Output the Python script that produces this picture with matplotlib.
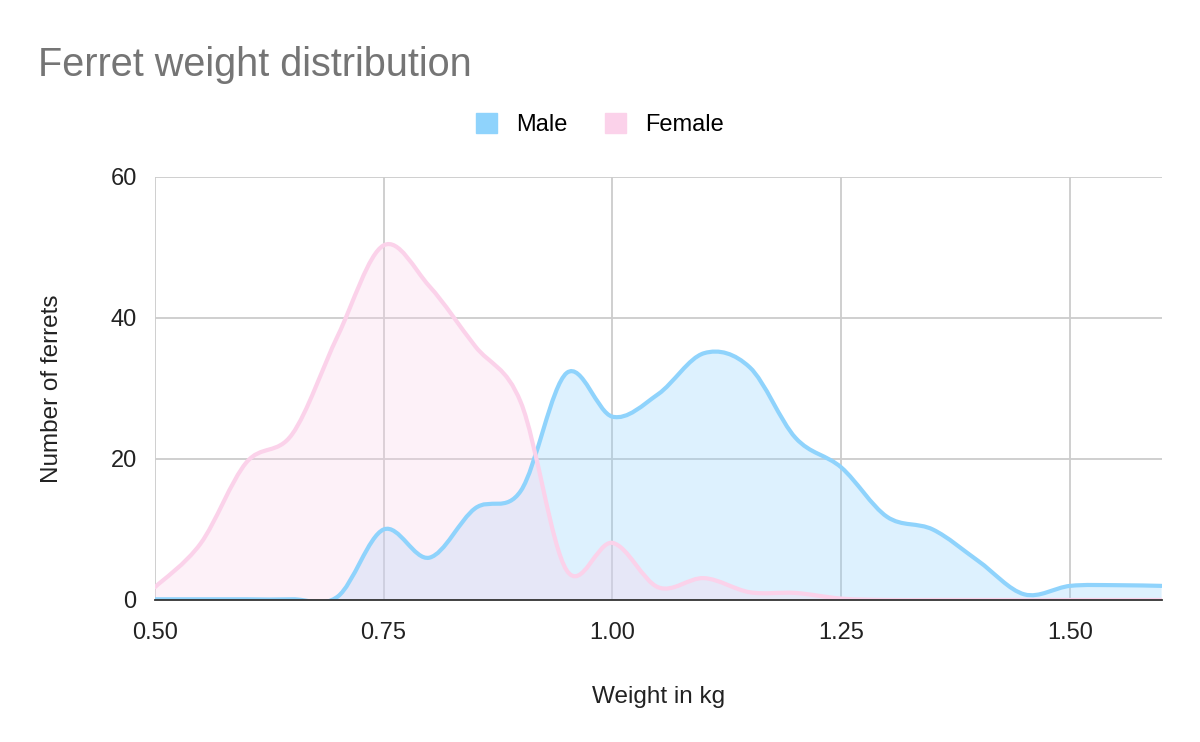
import numpy as np
from matplotlib import pyplot as plt
from matplotlib.path import Path
from matplotlib.patches import PathPatch

# Data (weight bins in kg, counts)
weights = [0.50, 0.55, 0.60, 0.65, 0.70, 0.75, 0.80, 0.85, 0.90, 0.95, 1.00, 1.05,
           1.10, 1.15, 1.20, 1.25, 1.30, 1.35, 1.40, 1.45, 1.50, 1.55, 1.60]
male = [0.1, 0.1, 0.1, 0.1, 0.5, 10.0, 6.0, 13.0, 15.5, 32.2, 26.0, 29.2,
        35.0, 33.0, 23.0, 18.8, 11.8, 10.0, 5.5, 0.8, 2.0, 2.1, 2.0]
female = [1.8, 8.0, 19.5, 23.5, 37.5, 50.3, 44.5, 36.0, 28.0, 4.2, 8.1, 1.8,
          3.1, 1.1, 1.0, 0.2, 0.0, 0.0, 0.0, 0.0, 0.0, 0.0, 0.0]

x_ticks = [0.50, 0.75, 1.00, 1.25, 1.50]
y_ticks = [0, 20, 40, 60]

MALE_COLOR = "#8fd3fc"
FEMALE_COLOR = "#fbd2ea"

plt.rcParams['font.family'] = ['Liberation Sans', 'DejaVu Sans']


def smooth_path(xs, ys, closed_to_zero=False):
    # Catmull-Rom spline through the points, as cubic Bezier segments
    pts = np.column_stack([xs, ys]).astype(float)
    n = len(pts)
    verts = [pts[0]]
    codes = [Path.MOVETO]
    for i in range(n - 1):
        p0 = pts[max(i - 1, 0)]
        p1 = pts[i]
        p2 = pts[i + 1]
        p3 = pts[min(i + 2, n - 1)]
        c1 = p1 + (p2 - p0) / 6.0
        c2 = p2 - (p3 - p1) / 6.0
        verts += [c1, c2, p2]
        codes += [Path.CURVE4] * 3
    if closed_to_zero:
        verts += [(xs[-1], 0), (xs[0], 0), pts[0]]
        codes += [Path.LINETO, Path.LINETO, Path.CLOSEPOLY]
    return Path(verts, codes)


def main():
    fig = plt.figure(figsize=(12, 7.42), dpi=100)
    ax = fig.add_axes([0.129, 0.1914, 0.839, 0.5701])

    for ys, col in [(male, MALE_COLOR), (female, FEMALE_COLOR)]:
        ax.add_patch(PathPatch(smooth_path(weights, ys, True), facecolor=col,
                               edgecolor='none', alpha=0.3, zorder=2))
    for ys, col in [(male, MALE_COLOR), (female, FEMALE_COLOR)]:
        ax.add_patch(PathPatch(smooth_path(weights, ys), facecolor='none',
                               edgecolor=col, lw=3, zorder=3,
                               capstyle='round', joinstyle='round'))

    ax.set_xlim(0.5, 1.6)
    ax.set_ylim(0, 60)
    ax.set_xticks(x_ticks)
    ax.set_xticklabels([f"{v:.2f}" for v in x_ticks])
    ax.set_yticks(y_ticks)
    ax.grid(True, color="#cccccc", lw=1.3, zorder=0)
    ax.set_axisbelow(True)
    for s in ['top', 'right', 'left']:
        ax.spines[s].set_visible(False)
    ax.spines['bottom'].set_color('#333333')
    ax.spines['bottom'].set_linewidth(1.3)
    ax.spines['bottom'].set_zorder(4)
    ax.tick_params(length=0, labelsize=17, colors='#222222')
    ax.tick_params(axis='x', pad=16)
    ax.tick_params(axis='y', pad=13)

    ax.set_xlabel("Weight in kg", fontsize=17.5, color='#222222', labelpad=30)
    ax.set_ylabel("Number of ferrets", fontsize=17.5, color='#222222', labelpad=34)

    fig.text(0.032, 0.913, "Ferret weight distribution", fontsize=28.5,
             color='#757575', va='center', ha='left')

    # legend
    h_m = plt.Rectangle((0, 0), 1, 1, color=MALE_COLOR)
    h_f = plt.Rectangle((0, 0), 1, 1, color=FEMALE_COLOR)
    fig.legend([h_m, h_f], ["Male", "Female"], loc='center',
               bbox_to_anchor=(0.5, 0.832), ncol=2, frameon=False,
               fontsize=17, handlelength=0.9, handleheight=0.9,
               handletextpad=0.8, columnspacing=1.6)

    fig.savefig("out.png", dpi=100)


if __name__ == "__main__":
    main()
